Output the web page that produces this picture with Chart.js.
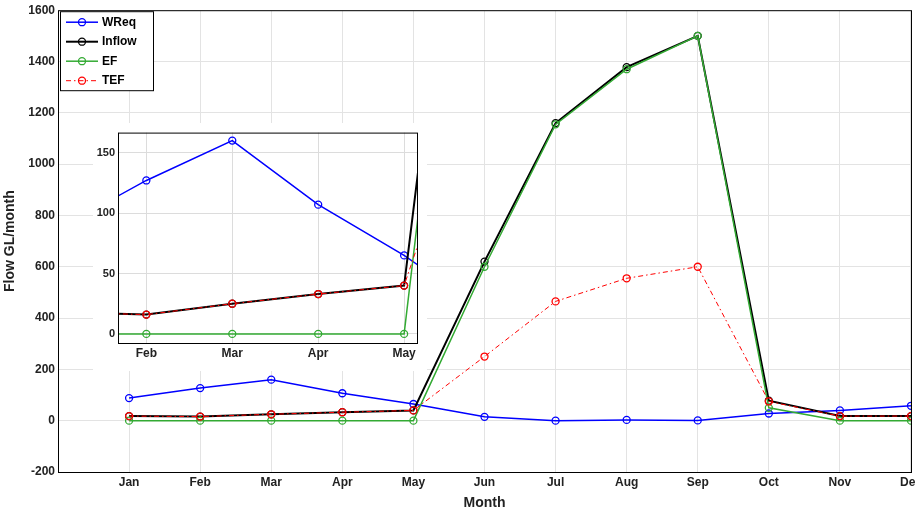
<!DOCTYPE html>
<html>
<head>
<script src="https://cdn.jsdelivr.net/npm/chart.js@4"></script>
<style>
  body { margin: 0; background: #fff; }
  #wrap { position: relative; width: 915px; height: 512px; overflow: hidden; }
  #inset { position: absolute; left: 93px; top: 123px; background: #fff; }
</style>
</head>
<body>
<div id="wrap">
  <canvas id="main" width="925" height="512"></canvas>
  <canvas id="inset" width="334" height="248"></canvas>
</div>
<script>
const months = ['Jan', 'Feb', 'Mar', 'Apr', 'May', 'Jun', 'Jul', 'Aug', 'Sep', 'Oct', 'Nov', 'Dec'];
const wreq = [88, 127, 160, 107, 65, 15, 0, 3, 1, 28, 40, 58];
const inflow = [18, 16, 25, 33, 40, 620, 1160, 1378, 1500, 78, 18, 18];
const ef = [0, 0, 0, 0, 0, 600, 1155, 1370, 1500, 50, 0, 0];
const tef = [18, 16, 25, 33, 40, 250, 465, 555, 600, 75, 18, 18];
const mainTicks = [-200, 0, 200, 400, 600, 800, 1000, 1200, 1400, 1600];
const insetTicks = [0, 50, 100, 150];

const font = { family: 'Liberation Sans, Arial', size: 12, weight: 'bold' };

function pts(arr) {
  return arr.map((v, i) => ({ x: i + 1, y: v }));
}

function makeDatasets() {
  const base = { pointRadius: 3.5, pointBackgroundColor: 'rgba(0,0,0,0)', pointBorderWidth: 1.3, fill: false, tension: 0, clip: 0 };
  return [
    Object.assign({}, base, { label: 'WReq', order: 3, data: pts(wreq), borderColor: '#0000ff', pointBorderColor: '#0000ff', borderWidth: 1.5 }),
    Object.assign({}, base, { label: 'Inflow', order: 2, data: pts(inflow), borderColor: '#000000', pointBorderColor: '#000000', borderWidth: 2 }),
    Object.assign({}, base, { label: 'EF', order: 1, data: pts(ef), borderColor: '#33aa33', pointBorderColor: '#33aa33', borderWidth: 1.5 }),
    Object.assign({}, base, { label: 'TEF', order: 0, data: pts(tef), borderColor: '#ff0000', pointBorderColor: '#ff0000', borderWidth: 1, borderDash: [5, 3, 1.5, 3] })
  ];
}

const boxPlugin = {
  id: 'box',
  afterDraw(chart) {
    const a = chart.chartArea, ctx = chart.ctx;
    ctx.save();
    ctx.strokeStyle = '#000';
    ctx.lineWidth = 1;
    ctx.strokeRect(a.left + 0.5, a.top + 0.5, a.right - a.left, a.bottom - a.top);
    ctx.restore();
  }
};

const legendPlugin = {
  id: 'boxLegend',
  afterDraw(chart) {
    const a = chart.chartArea, ctx = chart.ctx;
    const x0 = a.left + 2, y0 = a.top + 1, w = 93, h = 79;
    ctx.save();
    ctx.fillStyle = '#fff';
    ctx.fillRect(x0, y0, w, h);
    ctx.strokeStyle = '#000';
    ctx.lineWidth = 1;
    ctx.strokeRect(x0 + 0.5, y0 + 0.5, w, h);
    chart.data.datasets.forEach((ds, i) => {
      const y = y0 + 11 + i * 19.5;
      ctx.strokeStyle = ds.borderColor;
      ctx.lineWidth = ds.borderWidth;
      ctx.setLineDash(ds.borderDash || []);
      ctx.beginPath();
      ctx.moveTo(x0 + 6, y);
      ctx.lineTo(x0 + 38, y);
      ctx.stroke();
      ctx.setLineDash([]);
      ctx.lineWidth = 1.3;
      ctx.beginPath();
      ctx.arc(x0 + 22, y, 3.5, 0, Math.PI * 2);
      ctx.stroke();
      ctx.fillStyle = '#000';
      ctx.font = 'bold 12px Liberation Sans, Arial';
      ctx.textBaseline = 'middle';
      ctx.fillText(ds.label, x0 + 42, y);
    });
    ctx.restore();
  }
};

new Chart(document.getElementById('main'), {
  type: 'line',
  data: { datasets: makeDatasets() },
  options: {
    responsive: false,
    animation: false,
    layout: { padding: { top: 8, right: 3 } },
    plugins: { legend: { display: false }, tooltip: { enabled: false } },
    scales: {
      x: {
        type: 'linear', min: 0, max: 12,
        afterBuildTicks: s => { s.ticks = months.map((m, i) => ({ value: i + 1 })); },
        ticks: { callback: v => months[v - 1], font: font, color: '#222', autoSkip: false, maxRotation: 0 },
        grid: { color: '#e3e3e3', drawTicks: false },
        title: { display: true, text: 'Month', font: { family: font.family, size: 14, weight: 'bold' }, color: '#222', padding: 0 },
        afterFit: s => { s.height = 40; }
      },
      y: {
        min: -200, max: 1600,
        afterBuildTicks: s => { s.ticks = mainTicks.map(v => ({ value: v })); },
        ticks: { callback: v => String(v), font: font, color: '#222' },
        grid: { color: '#e3e3e3', drawTicks: false },
        title: { display: true, text: 'Flow GL/month', font: { family: font.family, size: 14, weight: 'bold' }, color: '#222', padding: 2 },
        afterFit: s => { s.width = 58; }
      }
    }
  },
  plugins: [boxPlugin, legendPlugin]
});

new Chart(document.getElementById('inset'), {
  type: 'line',
  data: { datasets: makeDatasets() },
  options: {
    responsive: false,
    animation: false,
    layout: { padding: { top: 9, right: 10 } },
    plugins: { legend: { display: false }, tooltip: { enabled: false } },
    scales: {
      x: {
        type: 'linear', min: 1.67, max: 5.15,
        afterBuildTicks: s => { s.ticks = [2, 3, 4, 5].map(v => ({ value: v })); },
        ticks: { callback: v => months[v - 1], font: font, color: '#222', autoSkip: false, maxRotation: 0 },
        grid: { color: '#dcdcdc', drawTicks: false },
        afterFit: s => { s.height = 28; }
      },
      y: {
        min: -7.5, max: 166.6,
        afterBuildTicks: s => { s.ticks = insetTicks.map(v => ({ value: v })); },
        ticks: { font: { family: font.family, size: 11, weight: 'bold' }, color: '#222' },
        grid: { color: '#dcdcdc', drawTicks: false },
        afterFit: s => { s.width = 25; }
      }
    }
  },
  plugins: [boxPlugin]
});
</script>
</body>
</html>
